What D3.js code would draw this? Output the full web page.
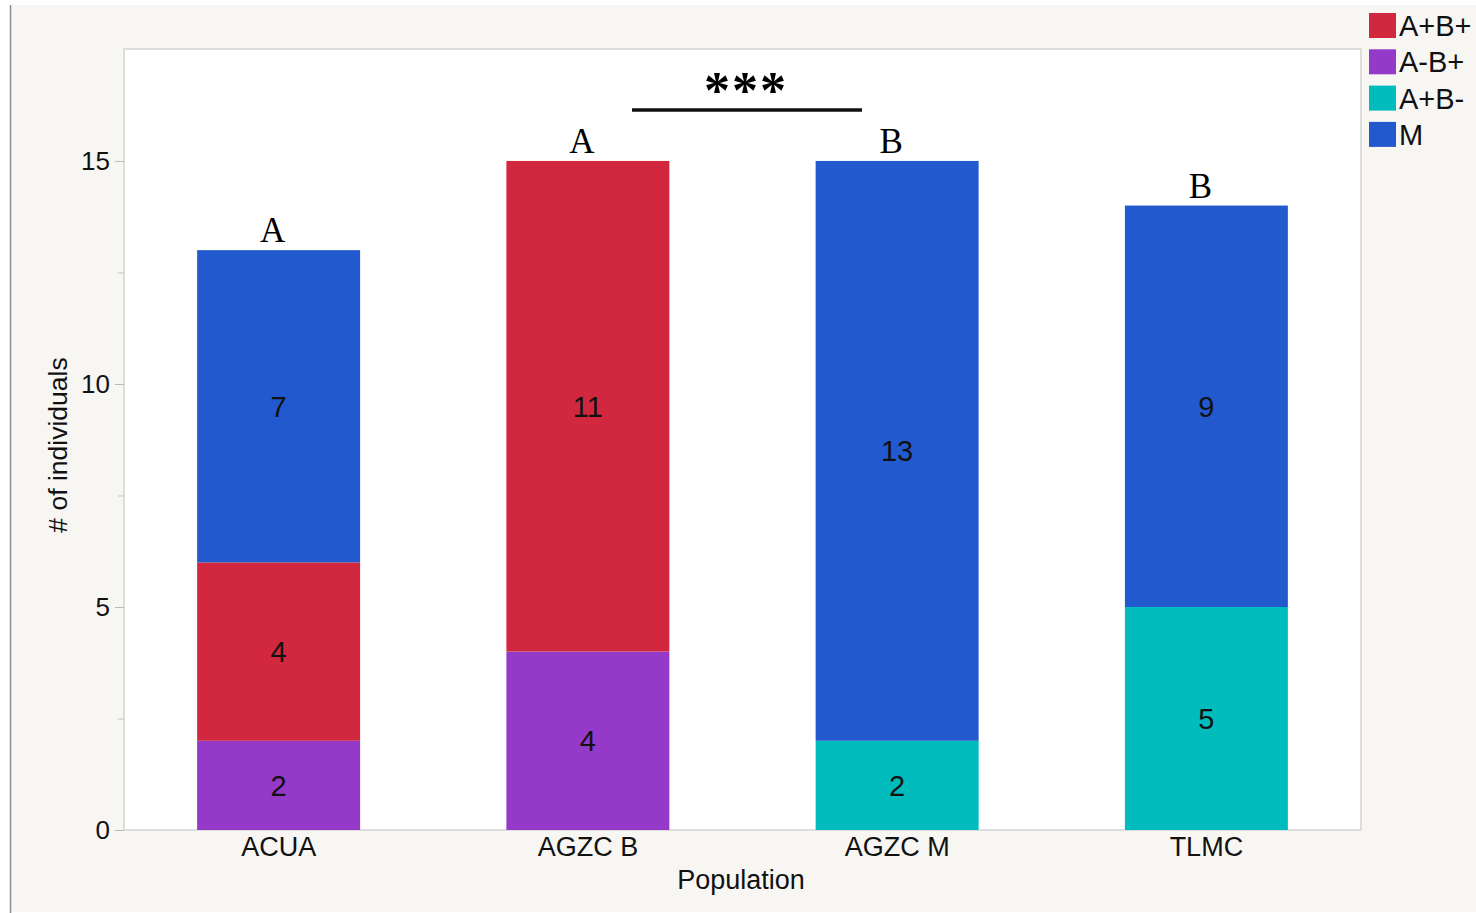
<!DOCTYPE html>
<html>
<head>
<meta charset="utf-8">
<script src="https://cdn.jsdelivr.net/npm/d3@7"></script>
<style>
  body { margin: 0; background: #ffffff; }
  svg { display: block; }
</style>
</head>
<body>
<svg id="chart"></svg>
<script>
const width = 1476, height = 913;

// data
const populations = ["ACUA", "AGZC B", "AGZC M", "TLMC"];
const categories = ["A-B+", "A+B-", "A+B+", "M"];   // stacking order, bottom first
const legendOrder = ["A+B+", "A-B+", "A+B-", "M"];
const counts_AmBp = [2, 4, 0, 0];
const counts_ApBm = [0, 0, 2, 5];
const counts_ApBp = [4, 11, 0, 0];
const counts_M    = [7, 0, 13, 9];
const groupLetters = ["A", "A", "B", "B"];
const yTicks = [0, 5, 10, 15];
const yMinorTicks = [2.5, 7.5, 12.5];

const colors = {
    "A+B+": "#d12840",
    "A-B+": "#9539c8",
    "A+B-": "#00bcbc",
    "M": "#2259cf"
};

const table = populations.map((p, i) => ({
    pop: p,
    "A-B+": counts_AmBp[i],
    "A+B-": counts_ApBm[i],
    "A+B+": counts_ApBp[i],
    "M": counts_M[i]
}));

const sans = "Liberation Sans, Arial, Helvetica, sans-serif";
const serif = "Liberation Serif, Times New Roman, serif";

const svg = d3.select("#chart")
    .attr("width", width)
    .attr("height", height);

// page background / frame
svg.append("rect")
    .attr("x", 10).attr("y", 5)
    .attr("width", width - 10).attr("height", 907)
    .attr("fill", "#f7f6f3");
svg.append("line")
    .attr("x1", 10.5).attr("x2", 10.5)
    .attr("y1", 5).attr("y2", 913)
    .attr("stroke", "#8a8c90").attr("stroke-width", 1.5);

const plot = {left: 124, right: 1361, top: 49, bottom: 830};

const x = d3.scaleBand()
    .domain(populations)
    .range([plot.left, plot.right])
    .paddingInner(0.473)
    .paddingOuter(0.2365);

const y = d3.scaleLinear()
    .domain([0, 17.51])
    .range([plot.bottom, plot.top]);

// plot area
svg.append("rect")
    .attr("x", plot.left).attr("y", plot.top)
    .attr("width", plot.right - plot.left)
    .attr("height", plot.bottom - plot.top)
    .attr("fill", "#ffffff")
    .attr("stroke", "#d4d4d4")
    .attr("stroke-width", 1.5);

// stacked bars
const stack = d3.stack().keys(categories)(table);

const layers = svg.append("g")
    .selectAll("g")
    .data(stack)
    .join("g")
    .attr("fill", d => colors[d.key]);

layers.selectAll("rect")
    .data(d => d.filter(s => s[1] - s[0] > 0))
    .join("rect")
    .attr("x", d => x(d.data.pop))
    .attr("width", x.bandwidth())
    .attr("y", d => y(d[1]))
    .attr("height", d => y(d[0]) - y(d[1]));

// segment value labels
layers.selectAll("text")
    .data(d => d.filter(s => s[1] - s[0] > 0))
    .join("text")
    .attr("x", d => x(d.data.pop) + x.bandwidth() / 2)
    .attr("y", d => y((d[0] + d[1]) / 2))
    .attr("dy", "0.36em")
    .attr("text-anchor", "middle")
    .attr("fill", "#111")
    .attr("font-family", sans)
    .attr("font-size", 29)
    .text(d => d[1] - d[0]);

// group letters above bars
const totals = table.map(d => d3.sum(categories, k => d[k]));
svg.append("g")
    .selectAll("text")
    .data(populations)
    .join("text")
    .attr("x", (d, i) => x(d) + x.bandwidth() / 2 - 6)
    .attr("y", (d, i) => y(totals[i]) - 8)
    .attr("text-anchor", "middle")
    .attr("font-family", serif)
    .attr("font-size", 35)
    .attr("fill", "#000")
    .text((d, i) => groupLetters[i]);

// significance bar
svg.append("line")
    .attr("x1", 632).attr("x2", 862)
    .attr("y1", 110).attr("y2", 110)
    .attr("stroke", "#111").attr("stroke-width", 3.5);
svg.append("text")
    .attr("x", 746).attr("y", 108)
    .attr("text-anchor", "middle")
    .attr("font-family", serif)
    .attr("font-weight", "bold")
    .attr("font-size", 52)
    .attr("letter-spacing", 2)
    .text("***");

// y axis
const yAxis = svg.append("g")
    .attr("transform", `translate(${plot.left},0)`)
    .call(d3.axisLeft(y).tickValues(yTicks).tickSize(9).tickPadding(5));
yAxis.select(".domain").remove();
yAxis.selectAll(".tick line").attr("stroke", "#b8b8b8");
yAxis.selectAll(".tick text")
    .attr("font-family", sans)
    .attr("font-size", 26)
    .attr("fill", "#111");

svg.append("g")
    .attr("transform", `translate(${plot.left},0)`)
    .call(d3.axisLeft(y).tickValues(yMinorTicks).tickSize(6).tickFormat(""))
    .call(g => g.select(".domain").remove())
    .selectAll(".tick line").attr("stroke", "#c4c4c4");

// x axis labels
const xAxis = svg.append("g")
    .attr("transform", `translate(0,${plot.bottom})`)
    .call(d3.axisBottom(x).tickSize(0).tickPadding(7));
xAxis.select(".domain").remove();
xAxis.selectAll(".tick text")
    .attr("font-family", sans)
    .attr("font-size", 27)
    .attr("fill", "#111");

// axis titles
svg.append("text")
    .attr("x", 741)
    .attr("y", 889)
    .attr("text-anchor", "middle")
    .attr("font-family", sans)
    .attr("font-size", 27)
    .attr("fill", "#111")
    .text("Population");

svg.append("text")
    .attr("transform", "translate(67,445) rotate(-90)")
    .attr("text-anchor", "middle")
    .attr("font-family", sans)
    .attr("font-size", 26.5)
    .attr("fill", "#111")
    .text("# of individuals");

// legend
const legend = svg.append("g")
    .attr("transform", "translate(1369,13)")
    .selectAll("g")
    .data(legendOrder)
    .join("g")
    .attr("transform", (d, i) => `translate(0,${i * 36.3})`);
legend.append("rect")
    .attr("width", 27).attr("height", 25)
    .attr("fill", d => colors[d]);
legend.append("text")
    .attr("x", 30).attr("y", 12.5)
    .attr("dy", "0.36em")
    .attr("font-family", sans)
    .attr("font-size", 29)
    .attr("fill", "#111")
    .text(d => d);
</script>
</body>
</html>
